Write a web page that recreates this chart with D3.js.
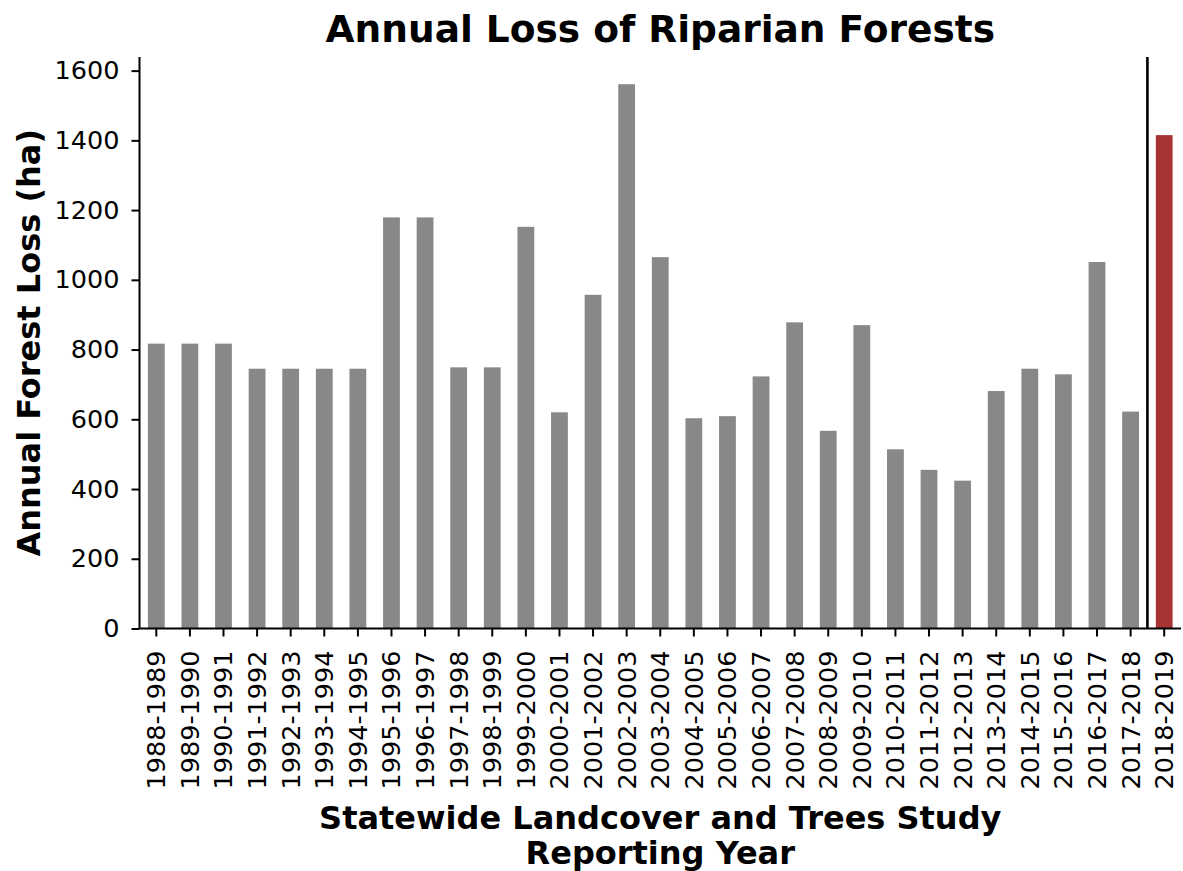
<!DOCTYPE html>
<html>
<head>
<meta charset="utf-8">
<script src="https://cdn.jsdelivr.net/npm/d3@7"></script>
<style>
  html, body { margin: 0; padding: 0; background: #fff; }
  svg { display: block; }
  text { font-family: "DejaVu Sans", sans-serif; fill: #000; }
</style>
</head>
<body>
<svg id="chart" width="1183" height="871"></svg>
<script>
// Reporting years (SLATS)
const years = [
  "1988-1989", "1989-1990", "1990-1991", "1991-1992", "1992-1993", "1993-1994",
  "1994-1995", "1995-1996", "1996-1997", "1997-1998", "1998-1999", "1999-2000",
  "2000-2001", "2001-2002", "2002-2003", "2003-2004", "2004-2005", "2005-2006",
  "2006-2007", "2007-2008", "2008-2009", "2009-2010", "2010-2011", "2011-2012",
  "2012-2013", "2013-2014", "2014-2015", "2015-2016", "2016-2017", "2017-2018",
  "2018-2019"
];

// Annual riparian forest loss (ha)
const lossHa = [
  817, 817, 817, 745, 745, 745, 745, 1179, 1179, 749, 749, 1152,
  620, 957, 1561, 1065, 603, 609, 723, 878, 567, 870, 514, 455,
  424, 681, 745, 729, 1051, 622, 1415
];

const yTicks = [0, 200, 400, 600, 800, 1000, 1200, 1400, 1600];
const highlightYear = "2018-2019";

const svg = d3.select("#chart");
const margin = { left: 139.5, right: 1181, top: 57, bottom: 628.5 };

const x = d3.scaleBand()
  .domain(years)
  .range([margin.left, margin.right])
  .paddingInner(0.5)
  .paddingOuter(0.25);

const yMax = d3.max(lossHa) * 1.05;
const y = d3.scaleLinear()
  .domain([0, yMax])
  .range([margin.bottom, margin.top]);

// bars
svg.append("g")
  .selectAll("rect")
  .data(years)
  .join("rect")
  .attr("x", d => x(d))
  .attr("width", x.bandwidth())
  .attr("y", (d, i) => y(lossHa[i]))
  .attr("height", (d, i) => y(0) - y(lossHa[i]))
  .attr("fill", d => d === highlightYear ? "#a83333" : "#888888");

// separator before the latest year
const step = x.step();
const sepX = x(highlightYear) - (step - x.bandwidth()) / 2;
svg.append("line")
  .attr("x1", sepX).attr("x2", sepX)
  .attr("y1", margin.top).attr("y2", margin.bottom)
  .attr("stroke", "#000").attr("stroke-width", 2.6);

const tickFont = "25.5px";

// y axis
const yAxis = svg.append("g")
  .attr("transform", `translate(${margin.left},0)`)
  .call(d3.axisLeft(y).tickValues(yTicks).tickSize(8).tickPadding(12).tickFormat(d3.format("d")));
yAxis.select(".domain").attr("stroke-width", 2).attr("d", `M0,${margin.top}V${margin.bottom}`);
yAxis.selectAll(".tick line").attr("stroke-width", 2);
yAxis.selectAll(".tick text").style("font-size", tickFont).attr("fill", "#000");

// x axis
const xAxis = svg.append("g")
  .attr("transform", `translate(0,${margin.bottom})`)
  .call(d3.axisBottom(x).tickSize(8).tickSizeOuter(0));
xAxis.select(".domain").attr("stroke-width", 2).attr("d", `M${margin.left},0H${margin.right}`);
xAxis.selectAll(".tick line").attr("stroke-width", 2);
xAxis.selectAll(".tick text")
  .style("font-size", tickFont)
  .attr("fill", "#000")
  .attr("transform", "rotate(-90)")
  .attr("text-anchor", "end")
  .attr("x", -22)
  .attr("y", 0)
  .attr("dy", "0.35em");

// title
svg.append("text")
  .attr("x", (margin.left + margin.right) / 2)
  .attr("y", 42)
  .attr("text-anchor", "middle")
  .style("font-size", "37.5px")
  .style("font-weight", "bold")
  .text("Annual Loss of Riparian Forests");

// y axis label
svg.append("text")
  .attr("transform", `translate(40,${(margin.top + margin.bottom) / 2}) rotate(-90)`)
  .attr("text-anchor", "middle")
  .style("font-size", "32px")
  .style("font-weight", "bold")
  .text("Annual Forest Loss (ha)");

// x axis label (two lines)
const xl = svg.append("text")
  .attr("text-anchor", "middle")
  .style("font-size", "32px")
  .style("font-weight", "bold");
xl.append("tspan").attr("x", (margin.left + margin.right) / 2).attr("y", 829)
  .text("Statewide Landcover and Trees Study");
xl.append("tspan").attr("x", (margin.left + margin.right) / 2).attr("y", 864)
  .text("Reporting Year");
</script>
</body>
</html>
